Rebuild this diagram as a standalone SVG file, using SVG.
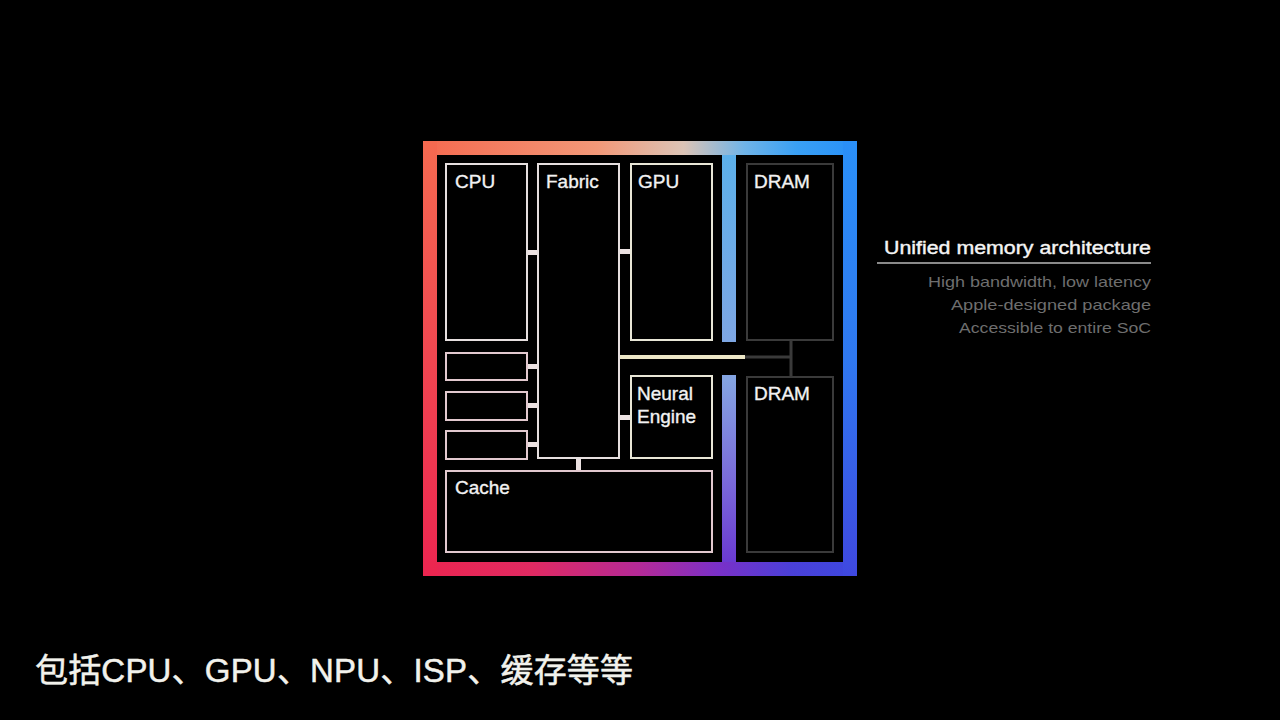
<svg xmlns="http://www.w3.org/2000/svg" width="1280" height="720" viewBox="0 0 1280 720">
  <style>
    .box { fill: #000; stroke: #e6dfdf; stroke-width: 2; }
    .boxp { fill: #000; stroke: #e2c9cf; stroke-width: 2; }
    .boxy { fill: #000; stroke: #e8e6d6; stroke-width: 2; }
    .dram { fill: #000; stroke: #3a3a3a; stroke-width: 2; }
    .lbl { font-family: "Liberation Sans", Arial, sans-serif; font-size: 19px; fill: #f2f2f2; stroke: #f2f2f2; stroke-width: 0.35; }
    .stub { fill: #ece2e2; }
    .title { font-family: "Liberation Sans", Arial, sans-serif; font-size: 18px; fill: #f4f4f4; stroke: #f4f4f4; stroke-width: 0.4; }
    .sub { font-family: "Liberation Sans", Arial, sans-serif; font-size: 15px; fill: #6e6e6e; }
    .cap { font-family: "Liberation Sans", "Noto Sans CJK SC", sans-serif; font-size: 33px; fill: #f2f2ec; stroke: #f2f2ec; stroke-width: 0.5; }
  </style>
  <defs>
    <linearGradient id="gTop" gradientUnits="userSpaceOnUse" x1="423" y1="0" x2="857" y2="0">
      <stop offset="0" stop-color="#f56a50"/>
      <stop offset="0.4" stop-color="#f29878"/>
      <stop offset="0.6" stop-color="#dcc4b6"/>
      <stop offset="0.74" stop-color="#70b4e8"/>
      <stop offset="0.86" stop-color="#3aa0f4"/>
      <stop offset="1" stop-color="#2890f8"/>
    </linearGradient>
    <linearGradient id="gLeft" gradientUnits="userSpaceOnUse" x1="0" y1="141" x2="0" y2="576">
      <stop offset="0" stop-color="#f56a50"/>
      <stop offset="0.5" stop-color="#f04650"/>
      <stop offset="1" stop-color="#ec2550"/>
    </linearGradient>
    <linearGradient id="gBottom" gradientUnits="userSpaceOnUse" x1="423" y1="0" x2="857" y2="0">
      <stop offset="0" stop-color="#ec2550"/>
      <stop offset="0.25" stop-color="#e02a62"/>
      <stop offset="0.5" stop-color="#b42a98"/>
      <stop offset="0.68" stop-color="#7a30c8"/>
      <stop offset="0.85" stop-color="#4a40d8"/>
      <stop offset="1" stop-color="#3c48e0"/>
    </linearGradient>
    <linearGradient id="gRight" gradientUnits="userSpaceOnUse" x1="0" y1="141" x2="0" y2="576">
      <stop offset="0" stop-color="#2a90f8"/>
      <stop offset="0.5" stop-color="#2f78f0"/>
      <stop offset="1" stop-color="#3f48e0"/>
    </linearGradient>
    <linearGradient id="gDiv" gradientUnits="userSpaceOnUse" x1="0" y1="155" x2="0" y2="562">
      <stop offset="0" stop-color="#5cb0ea"/>
      <stop offset="0.55" stop-color="#84a4e2"/>
      <stop offset="0.8" stop-color="#7a6ada"/>
      <stop offset="1" stop-color="#6a3ad2"/>
    </linearGradient>
  </defs>

  <rect x="0" y="0" width="1280" height="720" fill="#000"/>

  <g id="package-frame">
    <rect x="423" y="141" width="434" height="435" fill="#000"/>
    <rect x="423" y="141" width="434" height="14" fill="url(#gTop)"/>
    <rect x="423" y="562" width="434" height="14" fill="url(#gBottom)"/>
    <rect x="423" y="141" width="14" height="435" fill="url(#gLeft)"/>
    <rect x="843" y="141" width="14" height="435" fill="url(#gRight)"/>
    <rect x="722" y="155" width="14" height="187" fill="url(#gDiv)"/>
    <rect x="722" y="375" width="14" height="187" fill="url(#gDiv)"/>
  </g>

  <g id="connectors">
    <rect class="stub" x="527" y="250" width="11" height="5"/>
    <rect class="stub" x="619" y="249" width="12" height="5"/>
    <rect class="stub" x="527" y="364" width="11" height="5"/>
    <rect class="stub" x="527" y="403" width="11" height="5"/>
    <rect class="stub" x="527" y="442" width="11" height="5"/>
    <rect class="stub" x="619" y="415" width="12" height="5"/>
    <rect class="stub" x="576" y="458" width="5" height="13"/>
    <line x1="619" y1="357" x2="745" y2="357" stroke="#ece6c6" stroke-width="4"/>
    <line x1="745" y1="357" x2="792" y2="357" stroke="#3a3a3a" stroke-width="3"/>
    <line x1="791" y1="340" x2="791" y2="377" stroke="#3a3a3a" stroke-width="3"/>
  </g>

  <g id="cpu">
    <rect class="box" x="446" y="164" width="81" height="176"/>
    <text class="lbl" x="455" y="188">CPU</text>
  </g>
  <g id="fabric">
    <rect class="box" x="538" y="164" width="81" height="294"/>
    <text class="lbl" x="546" y="188">Fabric</text>
  </g>
  <g id="gpu">
    <rect class="boxy" x="631" y="164" width="81" height="176"/>
    <text class="lbl" x="638" y="188">GPU</text>
  </g>
  <g id="dram-top">
    <rect class="dram" x="747" y="164" width="86" height="176"/>
    <text class="lbl" x="754" y="188">DRAM</text>
  </g>
  <g id="block-1">
    <rect class="boxp" x="446" y="353" width="81" height="27"/>
  </g>
  <g id="block-2">
    <rect class="boxp" x="446" y="392" width="81" height="28"/>
  </g>
  <g id="block-3">
    <rect class="boxp" x="446" y="431" width="81" height="28"/>
  </g>
  <g id="neural-engine">
    <rect class="boxy" x="631" y="376" width="81" height="82"/>
    <text class="lbl" x="637" y="400">Neural</text>
    <text class="lbl" x="637" y="423">Engine</text>
  </g>
  <g id="dram-bottom">
    <rect class="dram" x="747" y="377" width="86" height="175"/>
    <text class="lbl" x="754" y="400">DRAM</text>
  </g>
  <g id="cache">
    <rect class="boxp" x="446" y="471" width="266" height="81"/>
    <text class="lbl" x="455" y="494">Cache</text>
  </g>

  <g id="legend">
    <text class="title" x="1151" y="254" text-anchor="end" textLength="267" lengthAdjust="spacingAndGlyphs">Unified memory architecture</text>
    <line x1="877" y1="263" x2="1151" y2="263" stroke="#8a8a8a" stroke-width="2"/>
    <text class="sub" x="1151" y="287" text-anchor="end" textLength="223" lengthAdjust="spacingAndGlyphs">High bandwidth, low latency</text>
    <text class="sub" x="1151" y="310" text-anchor="end" textLength="200" lengthAdjust="spacingAndGlyphs">Apple-designed package</text>
    <text class="sub" x="1151" y="333" text-anchor="end" textLength="192" lengthAdjust="spacingAndGlyphs">Accessible to entire SoC</text>
  </g>

  <g id="caption">
    <text class="cap" x="35" y="682" textLength="598" lengthAdjust="spacing">包括CPU、GPU、NPU、ISP、缓存等等</text>
  </g>
</svg>
